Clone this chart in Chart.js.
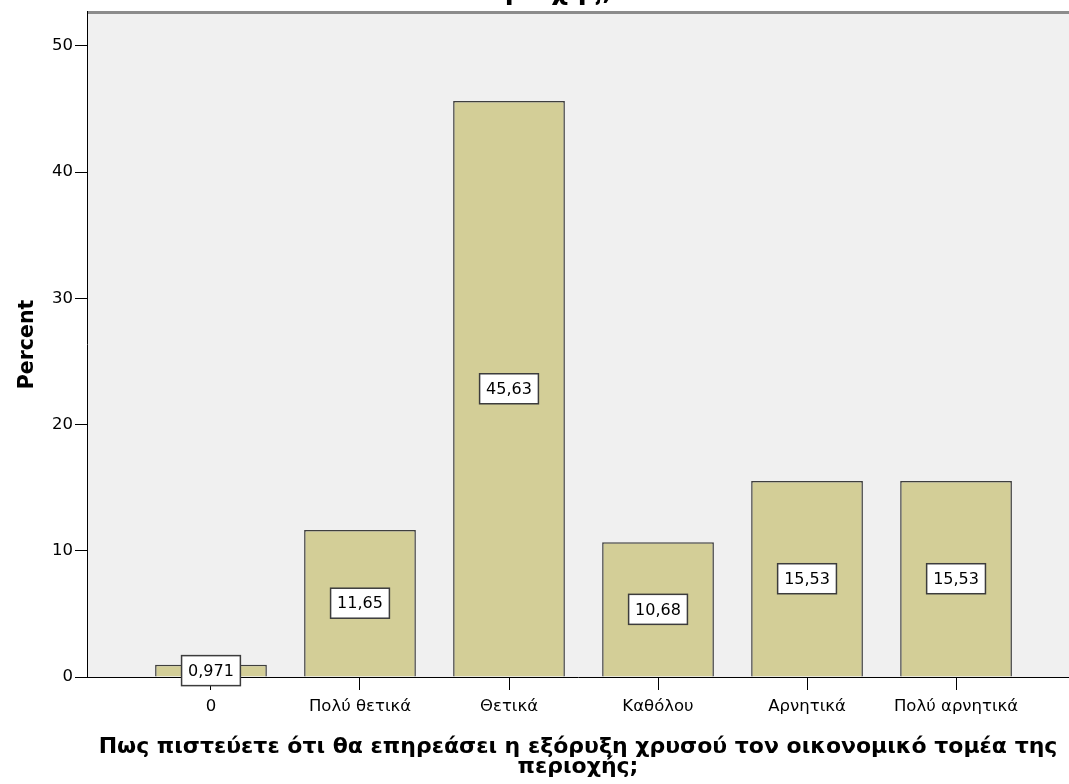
<!DOCTYPE html>
<html>
<head>
<meta charset="utf-8">
<script src="https://cdn.jsdelivr.net/npm/chart.js@4.4.1/dist/chart.umd.min.js"></script>
<style>
  html, body { margin: 0; padding: 0; background: #ffffff; }
  canvas { display: block; }
</style>
</head>
<body>
<canvas id="chart" width="1069" height="784"></canvas>
<script>
// Dữ liệu biểu đồ
const categories = ['0', 'Πολύ θετικά', 'Θετικά', 'Καθόλου', 'Αρνητικά', 'Πολύ αρνητικά'];
const percentValues = [0.971, 11.65, 45.63, 10.68, 15.53, 15.53];
const valueLabels = ['0,971', '11,65', '45,63', '10,68', '15,53', '15,53'];
const yTicks = [0, 10, 20, 30, 40, 50];

const xTitle = ['Πως πιστεύετε ότι θα επηρεάσει η εξόρυξη χρυσού τον οικονομικό τομέα της', 'περιοχής;'];
const yTitle = 'Percent';
const cutTitle = 'περιοχής;';

// Nền xám cho vùng vẽ và viền trên
const plotBackground = {
  id: 'plotBackground',
  beforeDraw(chart) {
    const { ctx, chartArea } = chart;
    ctx.save();
    ctx.fillStyle = '#f0f0f0';
    ctx.fillRect(chartArea.left, chartArea.top, chartArea.right - chartArea.left, chartArea.bottom - chartArea.top);
    ctx.strokeStyle = '#8c8c8c';
    ctx.lineWidth = 3;
    ctx.beginPath();
    ctx.moveTo(chartArea.left, chartArea.top + 0.5);
    ctx.lineTo(chartArea.right, chartArea.top + 0.5);
    ctx.stroke();
    // Tiêu đề bị cắt ở phía trên
    ctx.fillStyle = '#000';
    ctx.font = 'bold 26px "DejaVu Sans"';
    ctx.textAlign = 'center';
    ctx.textBaseline = 'alphabetic';
    ctx.fillText(cutTitle, 541, -1);
    ctx.restore();
  }
};

// Nhãn giá trị trong hộp trắng
const boxLabels = {
  id: 'boxLabels',
  afterDatasetsDraw(chart) {
    const { ctx } = chart;
    const meta = chart.getDatasetMeta(0);
    ctx.save();
    ctx.font = '16px "DejaVu Sans"';
    ctx.textAlign = 'center';
    ctx.textBaseline = 'middle';
    meta.data.forEach((bar, i) => {
      const text = valueLabels[i];
      const cx = bar.x;
      const cy = (bar.y + bar.base) / 2;
      const w = ctx.measureText(text).width + 13;
      const h = 30;
      ctx.fillStyle = '#ffffff';
      ctx.fillRect(cx - w / 2, cy - h / 2, w, h);
      ctx.strokeStyle = '#3c3c3c';
      ctx.lineWidth = 1.5;
      ctx.strokeRect(cx - w / 2, cy - h / 2, w, h);
      ctx.fillStyle = '#000';
      ctx.fillText(text, cx, cy + 1);
    });
    ctx.restore();
  }
};

new Chart(document.getElementById('chart').getContext('2d'), {
  type: 'bar',
  data: {
    datasets: [{
      data: percentValues.map((v, i) => ({ x: i, y: v })),
      backgroundColor: '#d3ce97',
      borderColor: '#3f3f3f',
      borderWidth: 1.5,
      barPercentage: 0.75,
      categoryPercentage: 1
    }]
  },
  options: {
    responsive: false,
    animation: false,
    layout: { padding: { top: 11, right: 0, left: 0, bottom: 0 } },
    plugins: {
      legend: { display: false },
      tooltip: { enabled: false }
    },
    scales: {
      x: {
        type: 'linear',
        min: -0.832,
        max: 5.758,
        offset: false,
        afterBuildTicks: scale => { scale.ticks = categories.map((_, i) => ({ value: i })); },
        afterFit: scale => { scale.height = 107; },
        ticks: {
          autoSkip: false,
          maxRotation: 0,
          padding: 7,
          color: '#000',
          font: { family: 'DejaVu Sans', size: 16.5 },
          callback: value => categories[value]
        },
        grid: { display: true, offset: false, drawOnChartArea: false, drawTicks: true, tickLength: 13, color: '#000' },
        border: { display: true, color: '#000', width: 1 },
        title: {
          display: true,
          text: xTitle,
          color: '#000',
          font: { family: 'DejaVu Sans', size: 22, weight: 'bold', lineHeight: 0.9 },
          padding: { top: 0, bottom: 7 }
        }
      },
      y: {
        min: 0,
        max: 52.69,
        afterBuildTicks: scale => { scale.ticks = yTicks.map(v => ({ value: v })); },
        afterFit: scale => { scale.width = 87; },
        ticks: {
          padding: 2,
          color: '#000',
          font: { family: 'DejaVu Sans', size: 16.5 }
        },
        grid: { display: true, drawOnChartArea: false, drawTicks: true, tickLength: 12, color: '#000' },
        border: { display: true, color: '#000', width: 1 },
        title: {
          display: true,
          text: yTitle,
          color: '#000',
          font: { family: 'DejaVu Sans', size: 20.5, weight: 'bold' },
          padding: { top: 15, bottom: 0 }
        }
      }
    }
  },
  plugins: [plotBackground, boxLabels]
});
</script>
</body>
</html>
